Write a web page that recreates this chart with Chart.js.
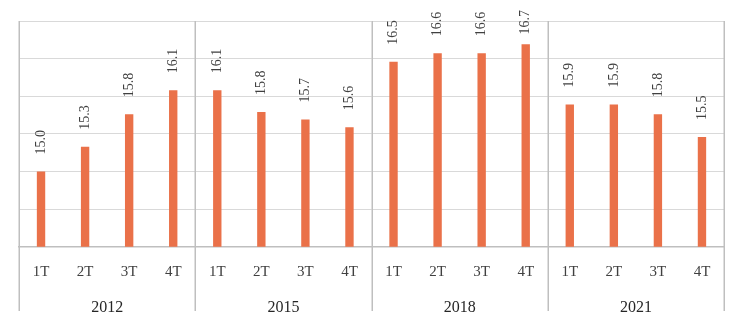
<!DOCTYPE html>
<html>
<head>
<meta charset="utf-8">
<script src="https://cdn.jsdelivr.net/npm/chart.js@4"></script>
<style>
  html, body { margin: 0; padding: 0; background: #fff; }
  #wrap { width: 743px; height: 328px; }
</style>
</head>
<body>
<div id="wrap"><canvas id="chart"></canvas></div>
<script>
// quarters and years
var quarters = ["1T", "2T", "3T", "4T", "1T", "2T", "3T", "4T", "1T", "2T", "3T", "4T", "1T", "2T", "3T", "4T"];
var years = ["2012", "2015", "2018", "2021"];
var values = [15.0, 15.33, 15.76, 16.08, 16.08, 15.79, 15.69, 15.59, 16.46, 16.57, 16.57, 16.69, 15.89, 15.89, 15.76, 15.46];

var serif = "'Liberation Serif', 'DejaVu Serif', serif";

// value labels, rotated
var valueLabels = {
  id: "valueLabels",
  afterDatasetsDraw: function (chart) {
    var ctx = chart.ctx;
    var meta = chart.getDatasetMeta(0);
    ctx.save();
    ctx.font = "14px " + serif;
    ctx.fillStyle = "#404040";
    ctx.textAlign = "left";
    ctx.textBaseline = "middle";
    meta.data.forEach(function (bar, i) {
      var txt = values[i].toFixed(1);
      var w = ctx.measureText(txt).width;
      var start = Math.max(bar.y - 17, 10 + w);
      ctx.save();
      ctx.translate(bar.x, start);
      ctx.rotate(-Math.PI / 2);
      ctx.fillText(txt, 0, 0);
      ctx.restore();
    });
    ctx.restore();
  }
};

// group separators, running down through the label rows
var separators = {
  id: "separators",
  afterDraw: function (chart) {
    var ctx = chart.ctx;
    var xs = chart.scales.x;
    var area = chart.chartArea;
    ctx.save();
    ctx.strokeStyle = "#bfbfbf";
    ctx.lineWidth = 1.5;
    for (var i = 0; i <= quarters.length; i += 4) {
      var px = Math.round(xs.getPixelForValue(i - 0.5)) + 0.25;
      ctx.beginPath();
      ctx.moveTo(px, area.top);
      ctx.lineTo(px, 311);
      ctx.stroke();
    }
    ctx.restore();
  }
};

new Chart(document.getElementById("chart"), {
  type: "bar",
  data: {
    labels: quarters,
    datasets: [{
      data: values,
      backgroundColor: "#EA7149",
      barPercentage: 0.19,
      categoryPercentage: 1.0
    }]
  },
  options: {
    responsive: true,
    maintainAspectRatio: false,
    animation: false,
    layout: { padding: { left: 19, right: 19, top: 21, bottom: 10 } },
    plugins: {
      legend: { display: false },
      tooltip: { enabled: false }
    },
    scales: {
      y: {
        min: 14,
        max: 17,
        ticks: { display: false, stepSize: 0.5 },
        grid: { color: "#d9d9d9", lineWidth: 1, drawTicks: false },
        border: { display: false }
      },
      x: {
        offset: true,
        grid: { display: false },
        border: { display: true, color: "#bfbfbf", width: 1.5 },
        ticks: {
          autoSkip: false,
          maxRotation: 0,
          padding: 8,
          color: "#404040",
          font: { family: serif, size: 15 }
        }
      },
      x2: {
        type: "category",
        labels: years,
        position: "bottom",
        offset: true,
        grid: { display: false },
        border: { display: false },
        ticks: {
          maxRotation: 0,
          padding: 1,
          color: "#262626",
          font: { family: serif, size: 16 }
        }
      }
    }
  },
  plugins: [valueLabels, separators]
});
</script>
</body>
</html>
